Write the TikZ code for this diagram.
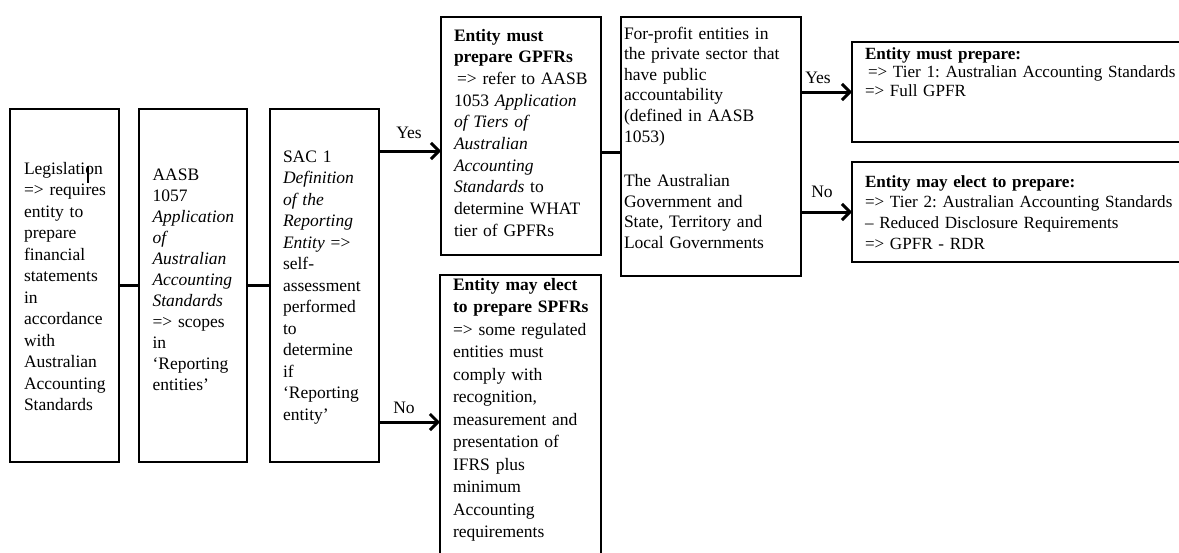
\documentclass[tikz,border=0pt]{standalone}
\usepackage{fontspec}
\setmainfont{Liberation Serif}
\usetikzlibrary{arrows.meta}
\newcommand\fsz[1]{\fontsize{17.5pt}{#1pt}\selectfont\frenchspacing}
\newcommand\fszs[1]{\fontsize{17.1pt}{#1pt}\selectfont\frenchspacing}
\tikzset{
  box/.style={draw=black, line width=1.2pt, inner sep=0pt, outer sep=0pt, anchor=north west},
  txt/.style={inner sep=0pt, outer sep=0pt, anchor=base west, align=left},
  conn/.style={line width=3pt},
  arr/.style={line width=3pt, -{Straight Barb[length=8pt,width=16pt]}},
  lbl/.style={inner sep=0pt, font=\fsz{20}}
}
\begin{document}
\begin{tikzpicture}[x=1pt,y=-1pt]
\clip (0,0) rectangle (1179,552);
\fill[white] (0,0) rectangle (1179,552);
% boxes
\node[box, minimum width=109pt, minimum height=353pt] (b1) at (10,109) {};
\node[box, minimum width=108pt, minimum height=353pt] (b2) at (139,109) {};
\node[box, minimum width=109pt, minimum height=353pt] (b3) at (270,109) {};
\node[box, minimum width=160pt, minimum height=238pt] (b4) at (441,17) {};
\node[box, minimum width=161pt, minimum height=330pt] (b5) at (440,275) {};
\node[box, minimum width=180pt, minimum height=259pt] (b6) at (621,17) {};
\node[box, minimum width=345pt, minimum height=100pt] (b7) at (852,42) {};
\node[box, minimum width=345pt, minimum height=100pt] (b8) at (852,162) {};
% texts
\node[txt, text width=100pt, font=\fsz{21.5}] (t1) at (24,174) {Legislation\\=> requires\\entity to\\prepare\\financial\\statements\\in\\accordance\\with\\Australian\\Accounting\\Standards};
\draw[line width=1.2pt] (88,166) -- (88,183);
\node[txt, text width=100pt, font=\fsz{21}] (t2) at (152.5,180) {AASB\\1057\\\textit{Application}\\\textit{of}\\\textit{Australian}\\\textit{Accounting}\\\textit{Standards}\\=> scopes\\in\\‘Reporting\\entities’};
\node[txt, text width=100pt, font=\fsz{21.5}] (t3) at (283,162) {SAC 1\\\textit{Definition}\\\textit{of the}\\\textit{Reporting}\\\textit{Entity} =>\\self-\\assessment\\performed\\to\\determine\\if\\‘Reporting\\entity’};
\node[txt, text width=150pt, font=\fsz{21.7}] (t4) at (454,41) {\textbf{Entity must}\\\textbf{prepare GPFRs}\\\hspace*{3pt}=> refer to AASB\\1053 \textit{Application}\\\textit{of Tiers of}\\\textit{Australian}\\\textit{Accounting}\\\textit{Standards} to\\determine WHAT\\tier of GPFRs};
\node[txt, text width=150pt, font=\fsz{22.5}] (t5) at (453,290) {\textbf{Entity may elect}\\\textbf{to prepare SPFRs}\\=> some regulated\\entities must\\comply with\\recognition,\\measurement and\\presentation of\\IFRS plus\\minimum\\Accounting\\requirements};
\node[txt, text width=175pt, font=\fsz{20.6}] (t6) at (624,39) {For-profit entities in\\the private sector that\\have public\\accountability\\(defined in AASB\\1053)\\[24pt]The Australian\\Government and\\State, Territory and\\Local Governments};
\node[txt, text width=340pt, font=\fszs{18.5}] (t7) at (865,59) {\textbf{Entity must prepare:}\\\hspace*{3pt}=> Tier 1: Australian Accounting Standards\\=> Full GPFR};
\node[txt, text width=340pt, font=\fszs{20.8}] (t8) at (865,187) {\textbf{Entity may elect to prepare:}\\=> Tier 2: Australian Accounting Standards\\– Reduced Disclosure Requirements\\=> GPFR - RDR};
% connectors
\coordinate (yA) at (0,151);
\coordinate (nA) at (0,422);
\coordinate (c46) at (0,152);
\draw[conn] (b1.east) -- (b2.west);
\draw[conn] (b2.east) -- (b3.west);
\draw[arr] (b3.east |- yA) -- (b4.west |- yA);
\draw[arr] (b3.east |- nA) -- (b5.west |- nA);
\draw[conn] (b4.east |- c46) -- (b6.west |- c46);
\draw[arr] (b6.east |- b7.west) -- (b7.west);
\draw[arr] (b6.east |- b8.west) -- (b8.west);
% labels
\node[lbl] (lyes1) at (409,133) {Yes};
\node[lbl] (lno1) at (404,408) {No};
\node[lbl] (lyes2) at (818,78) {Yes};
\node[lbl] (lno2) at (822,192) {No};
\end{tikzpicture}
\end{document}
